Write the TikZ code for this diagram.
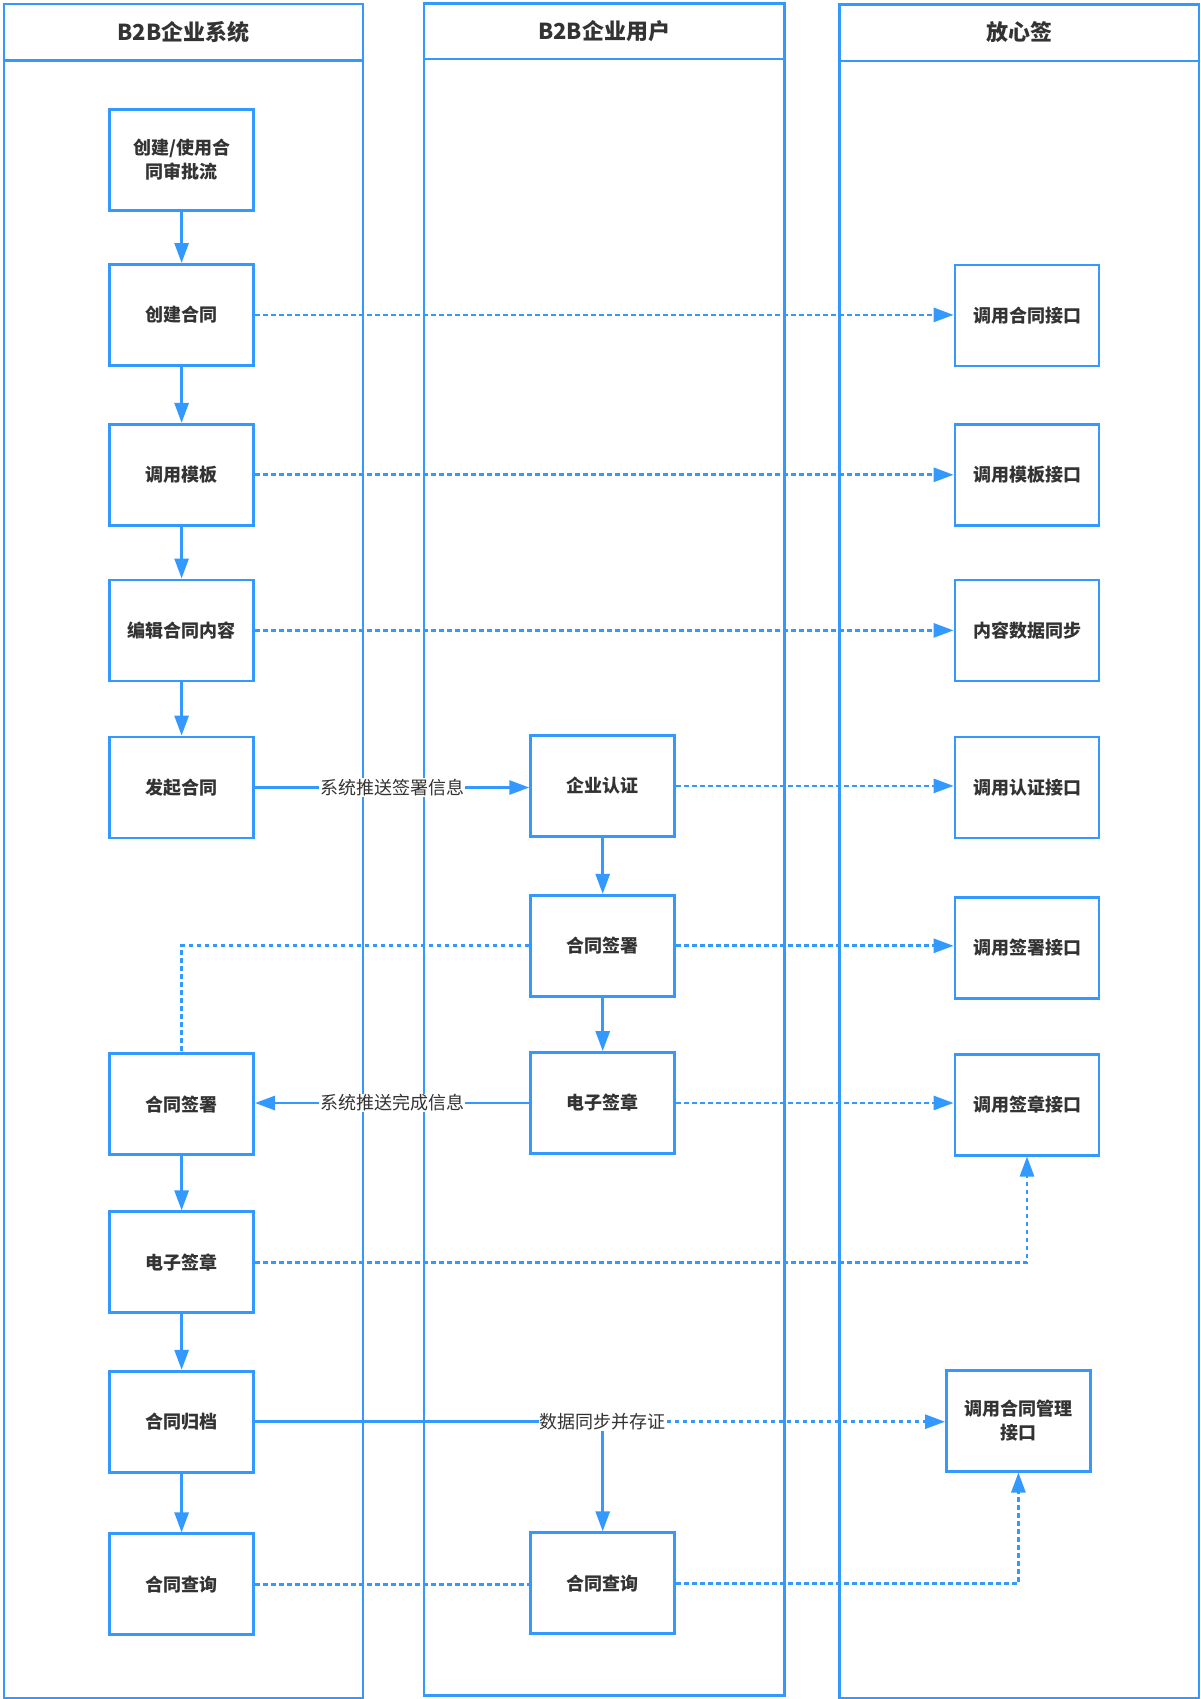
\documentclass[tikz,border=0pt]{standalone}
\usepackage{fontspec}
\setmainfont{Noto Sans CJK SC}
\usetikzlibrary{arrows.meta,calc}
\definecolor{lb}{HTML}{3399FF}
\definecolor{tx}{HTML}{333333}
\begin{document}
\begin{tikzpicture}[x=1pt,y=-1pt,
 lane/.style={draw=lb,line width=2.8pt,rectangle,inner sep=0pt,anchor=north west,minimum width=359pt},
 hdr/.style={font=\bfseries\fontsize{22}{26}\selectfont,text=tx,inner sep=0pt},
 box/.style={draw=lb,fill=white,line width=2.8pt,minimum width=144pt,minimum height=101pt,inner sep=0pt,font=\bfseries\fontsize{18}{24}\selectfont,text=tx,align=center},
 flow/.style={draw=lb,line width=2.8pt,-{Triangle[length=20pt,width=14pt]}},
 sync/.style={flow,dash pattern=on 4.5pt off 3.5pt},
 plain/.style={draw=lb,line width=2.8pt},
 dline/.style={plain,dash pattern=on 4.5pt off 3.5pt},
 lbl/.style={fill=white,font=\fontsize{18}{22}\selectfont,text=tx,inner sep=1pt}]
\useasboundingbox (0,0) rectangle (1200,1699);
% lanes
\node[lane,minimum height=1694pt] (lane1) at (2.5,2.7) {};
\node[lane,minimum width=360.5pt,minimum height=1691.5pt] (lane2) at (422.5,2.5) {};
\node[lane,minimum width=359.5pt,minimum height=1693pt] (lane3) at (838,3.5) {};
\draw[lb,line width=2.8pt] ($(lane1.north west)+(0,57.5)$) coordinate (h1) -- (h1 -| lane1.east);
\draw[lb,line width=2.8pt] ($(lane2.north west)+(0,56.5)$) coordinate (h2) -- (h2 -| lane2.east);
\draw[lb,line width=2.8pt] ($(lane3.north west)+(0,57.5)$) coordinate (h3) -- (h3 -| lane3.east);
\node[hdr] (t1) at ($(lane1.north)+(0,29.5)$) {B2B企业系统};
\node[hdr] (t2) at ($(lane2.north)+(0,28.5)$) {B2B企业用户};
\node[hdr] (t3) at ($(lane3.north)+(0,28.5)$) {放心签};
% left column
\node[box] (b1) at (181.6,159.9) {创建/使用合\\同审批流};
\node[box] (b2) at (181.6,314.9) {创建合同};
\node[box] (b3) at (181.6,474.8) {调用模板};
\node[box] (b4) at (181.6,630.4) {编辑合同内容};
\node[box] (b5) at (181.6,787.5) {发起合同};
\node[box] (b6) at (181.6,1104.1) {合同签署};
\node[box] (b7) at (181.6,1262.3) {电子签章};
\node[box] (b8) at (181.6,1421.7) {合同归档};
\node[box] (b9) at (181.6,1584.3) {合同查询};
% middle column
\node[box] (m1) at (602.7,785.9) {企业认证};
\node[box] (m2) at (602.7,945.8) {合同签署};
\node[box] (m3) at (602.7,1103) {电子签章};
\node[box] (m4) at (602.7,1583.2) {合同查询};
% right column
\node[box] (r1) at (1027,315.4) {调用合同接口};
\node[box] (r2) at (1027,474.8) {调用模板接口};
\node[box] (r3) at (1027,630.4) {内容数据同步};
\node[box] (r4) at (1027,787.5) {调用认证接口};
\node[box] (r5) at (1027,948) {调用签署接口};
\node[box] (r6) at (1027,1104.6) {调用签章接口};
\node[box] (r7) at (1018.4,1420.6) {调用合同管理\\接口};
% vertical flows
\draw[flow] (b1) -- (b2);
\draw[flow] (b2) -- (b3);
\draw[flow] (b3) -- (b4);
\draw[flow] (b4) -- (b5);
\draw[flow] (b6) -- (b7);
\draw[flow] (b7) -- (b8);
\draw[flow] (b8) -- (b9);
\draw[flow] (m1) -- (m2);
\draw[flow] (m2) -- (m3);
% sync to right
\draw[sync] (b2.east) -- (b2.east -| r1.west);
\draw[sync] (b3.east) -- (b3.east -| r2.west);
\draw[sync] (b4.east) -- (b4.east -| r3.west);
\draw[sync] (m1.east) -- (m1.east -| r4.west);
\draw[sync] (m2.east) -- (m2.east -| r5.west);
\draw[sync] (m3.east) -- (m3.east -| r6.west);
\draw[sync] (b7.east) -| (r6.south);
\draw[dline] (m2.west) -| (b6.north);
% cross-lane flows
\draw[flow] (b5.east) -- (b5.east -| m1.west) node[lbl,midway] (l1) {系统推送签署信息};
\draw[flow] (m3.west) -- (m3.west -| b6.east) node[lbl,midway] (l2) {系统推送完成信息};
\draw[plain] (b8.east) -- (b8.east -| m4.north) coordinate (j);
\draw[flow] (j) -- (m4.north);
\draw[sync] (j) -- (j -| r7.west);
\node[lbl] (l3) at (j) {数据同步并存证};
\draw[dline] (b9.east) -- (b9.east -| m4.west);
\draw[sync] (m4.east) -| (r7.south);
\end{tikzpicture}
\end{document}
